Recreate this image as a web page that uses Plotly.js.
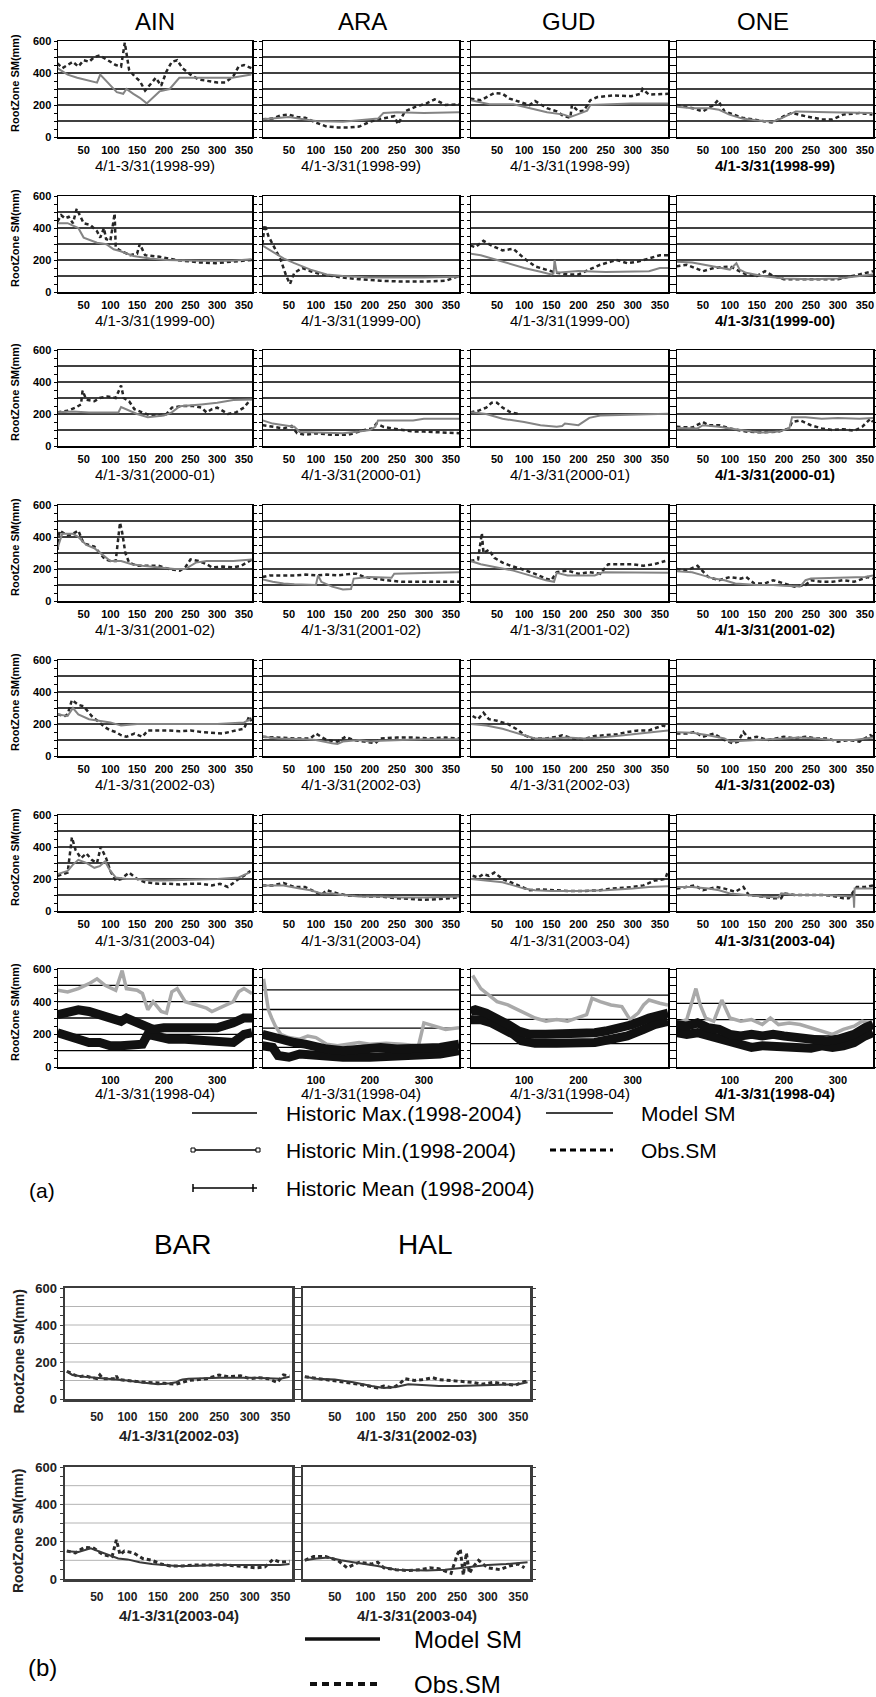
<!DOCTYPE html>
<html><head><meta charset="utf-8">
<script src="https://cdn.plot.ly/plotly-3.0.1.min.js"></script>
<style>html,body{margin:0;padding:0;background:#fff}#g{width:876px;height:1697px}</style>
</head><body><div id="g"></div>
<script>
// ---------------- DATA ----------------
const stations = ['AIN','ARA','GUD','ONE'];
const yearLabels = ['1998-99','1999-00','2000-01','2001-02','2002-03','2003-04'];
const histLabel = '1998-04';
const xTicksA = [50,100,150,200,250,300,350];
const xTicksHist = [100,200,300];
const yTickVals = [0,50,100,150,200,250,300,350,400,450,500,550,600];
const gridA = [100,200,300,400,500];
const gridHistAIN = [100,200,300,400,500];
const gridHistARA = [120,238,352,472];
const gridHistGUD = [143,291,440];
const gridHistONE = [190,290,389];
const gridB = [100,200,300,400,500];

// 1998-99
const AIN98_md=[1,20,38,62,75,81,93,112,124,130,143,155,168,180,192,211,229,267,328,364];
const AIN98_mv=[430,390,370,350,340,390,350,280,270,300,270,245,210,250,285,300,370,370,370,390];
const AIN98_od=[1,10,20,30,40,50,60,70,80,90,100,110,120,127,135,145,155,165,175,185,195,205,215,225,235,250,265,280,300,315,330,340,350,364];
const AIN98_ov=[460,430,450,470,440,480,470,500,510,490,470,450,440,590,420,380,350,290,330,370,320,410,470,480,430,390,360,350,340,340,380,440,450,430];
const ARA98_md=[1,30,50,80,100,150,200,215,225,250,300,365];
const ARA98_mv=[110,120,125,110,100,95,110,115,150,155,150,155];
const ARA98_od=[1,20,35,50,65,80,100,120,140,160,180,200,215,230,245,252,265,285,305,320,340,365];
const ARA98_ov=[110,115,135,140,125,120,90,65,60,60,65,95,110,120,130,80,160,190,210,235,200,205];
const GUD98_md=[1,36,80,110,142,173,185,197,216,222,297,365];
const GUD98_mv=[230,205,205,180,155,140,125,140,165,200,210,210];
const GUD98_od=[1,20,45,60,73,92,110,120,142,160,173,185,188,200,210,222,235,266,297,315,318,330,365];
const GUD98_ov=[240,230,275,270,240,220,200,225,180,160,130,120,200,160,165,230,250,260,255,270,300,265,270];
const ONE98_md=[1,31,62,80,99,123,148,179,191,222,284,364];
const ONE98_mv=[190,180,180,170,140,115,105,95,110,160,155,150];
const ONE98_od=[1,31,50,70,78,90,123,140,160,180,200,215,240,270,290,310,340,364];
const ONE98_ov=[200,180,160,200,230,160,120,110,100,90,130,150,130,110,110,140,150,140];
// 1999-00
const AIN99_md=[1,20,40,50,75,93,106,118,143,174,205,267,328,364];
const AIN99_mv=[430,430,400,340,308,298,267,256,225,210,200,195,195,205];
const AIN99_od=[1,8,15,22,30,37,50,62,75,81,88,92,100,108,110,118,137,150,155,165,192,223,267,297,328,364];
const AIN99_ov=[440,480,460,470,430,520,430,420,380,340,400,330,320,490,280,260,230,240,300,230,220,200,185,180,190,200];
const ARA99_md=[1,20,40,60,90,120,150,200,250,300,365];
const ARA99_mv=[290,250,210,180,140,110,100,90,90,90,95];
const ARA99_od=[1,5,12,20,35,45,52,60,75,90,110,130,150,180,220,260,300,340,365];
const ARA99_ov=[300,420,350,300,200,100,50,120,150,130,110,100,90,80,70,65,65,70,100];
const GUD99_md=[1,20,50,70,100,130,150,154,156,160,200,250,330,350,365];
const GUD99_mv=[240,230,200,180,150,127,110,115,200,120,131,125,130,150,150];
const GUD99_od=[1,10,25,40,60,80,100,120,140,160,180,200,220,240,260,270,290,310,330,350,365];
const GUD99_ov=[290,280,320,290,260,270,210,160,140,120,110,110,140,170,190,200,180,190,210,230,230];
const ONE99_md=[1,30,70,100,112,118,130,160,200,250,300,340,365];
const ONE99_mv=[190,185,160,140,180,140,120,100,85,80,85,100,110];
const ONE99_od=[1,20,50,70,100,130,150,165,180,200,250,300,340,365];
const ONE99_ov=[160,170,130,150,160,110,100,130,100,80,80,80,110,130];
// 2000-01
const AIN00_md=[1,30,60,90,115,120,150,170,200,215,230,270,300,330,365];
const AIN00_mv=[210,215,210,210,210,243,200,180,190,210,249,260,270,288,290];
const AIN00_od=[1,20,35,45,48,55,70,80,95,110,120,125,135,145,160,175,190,205,215,235,255,270,280,290,300,320,335,350,362];
const AIN00_ov=[210,220,240,260,346,290,280,300,310,300,378,300,280,230,210,190,190,200,240,250,250,240,210,230,240,200,210,240,290];
const ARA00_md=[1,20,50,60,70,100,150,180,200,210,215,280,300,365];
const ARA00_mv=[160,140,125,120,87,85,80,90,100,120,160,160,170,170];
const ARA00_od=[1,20,40,55,65,80,100,130,160,190,205,212,225,240,260,280,300,330,365];
const ARA00_ov=[130,120,110,125,80,70,80,70,70,100,110,140,120,110,100,90,90,85,80];
const GUD00_md=[1,30,60,100,130,160,170,175,200,220,240,300,365];
const GUD00_mv=[212,200,170,150,130,120,125,140,130,176,190,195,201];
const GUD00_od=[1,15,30,40,50,60,75,90];
const GUD00_ov=[210,220,240,270,270,240,210,200];
const ONE00_md=[1,40,50,80,110,140,160,190,210,215,240,270,300,340,365];
const ONE00_mv=[112,110,130,120,105,90,85,90,110,180,180,170,175,170,175];
const ONE00_od=[1,30,50,60,80,100,130,160,190,210,215,230,250,270,290,310,330,345,360,365];
const ONE00_ov=[120,115,150,130,130,110,90,85,90,110,150,160,130,110,100,105,95,120,170,150];
// 2001-02
const AIN01_md=[1,10,30,40,55,70,85,100,120,140,160,190,220,240,260,280,300,330,365];
const AIN01_mv=[330,420,420,400,350,330,290,250,250,230,220,210,200,200,240,250,250,250,260];
const AIN01_od=[1,5,20,30,40,50,60,70,80,90,100,110,118,122,128,135,150,170,190,210,230,240,250,265,280,290,310,330,345,355,365];
const AIN01_ov=[320,440,410,420,440,360,350,340,300,260,250,250,490,430,300,240,220,220,220,200,190,210,260,250,230,210,215,210,220,240,260];
const ARA01_md=[1,20,40,60,100,104,110,130,150,165,170,200,240,245,300,365];
const ARA01_mv=[135,120,110,105,100,160,120,90,72,75,140,150,145,170,175,180];
const ARA01_od=[1,15,40,60,80,100,120,140,165,175,190,210,230,260,290,320,365];
const ARA01_ov=[150,160,160,160,165,160,165,160,170,170,150,140,130,120,120,120,120];
const GUD01_md=[1,20,50,80,110,140,155,160,180,230,245,300,365];
const GUD01_mv=[250,230,210,190,160,130,120,176,160,160,180,180,176];
const GUD01_od=[1,15,22,25,35,45,60,75,95,120,140,150,160,180,200,220,240,255,280,300,320,340,360];
const GUD01_ov=[250,260,424,300,320,270,240,220,200,170,140,130,180,190,170,180,170,230,230,230,220,230,250];
const ONE01_md=[1,30,50,70,90,110,150,180,200,230,240,250,300,350,365];
const ONE01_mv=[186,180,160,140,130,110,100,100,95,90,130,140,145,150,160];
const ONE01_od=[1,20,40,60,80,100,120,130,145,165,180,200,220,240,250,270,290,310,330,355,365];
const ONE01_ov=[200,190,220,150,130,150,140,150,110,110,130,110,90,100,130,120,120,130,120,150,140];
// 2002-03
const AIN02_md=[1,20,30,40,60,80,100,120,150,200,250,300,350,362];
const AIN02_mv=[260,250,300,260,230,220,210,190,200,200,200,200,210,230];
const AIN02_od=[1,15,20,28,40,50,65,80,90,100,110,120,130,145,160,170,190,210,230,250,270,290,310,335,350,360,365];
const AIN02_ov=[260,250,260,350,320,310,250,210,180,160,150,130,120,140,120,160,160,160,155,160,150,145,140,160,170,250,200];
const ARA02_md=[1,30,80,100,130,140,150,180,200,220,260,300,365];
const ARA02_mv=[120,110,105,100,80,75,90,100,90,95,100,105,105];
const ARA02_od=[1,30,60,90,100,120,140,155,170,190,210,220,250,280,310,340,365];
const ARA02_ov=[120,115,110,110,140,100,90,120,100,90,80,110,115,115,110,115,110];
const GUD02_md=[1,30,60,80,100,120,150,180,210,240,270,300,330,365];
const GUD02_mv=[200,190,170,150,130,110,110,115,110,115,125,135,145,160];
const GUD02_od=[5,15,25,35,50,70,90,100,115,140,160,170,190,210,230,250,270,290,310,330,355,365];
const GUD02_ov=[250,230,270,230,220,200,160,130,110,110,120,130,110,105,125,130,135,150,160,160,190,180];
const ONE02_md=[1,30,60,90,100,120,150,200,230,260,290,330,365];
const ONE02_mv=[148,145,130,110,90,95,100,110,115,110,100,100,115];
const ONE02_od=[1,20,35,50,70,90,105,115,125,135,150,170,200,220,240,260,280,300,320,340,360,365];
const ONE02_ov=[140,140,150,120,140,100,80,90,150,110,120,100,120,110,120,110,110,90,100,90,130,120];
// 2003-04
const AIN03_md=[1,20,30,40,55,70,80,90,100,110,130,150,175,200,250,300,340,360];
const AIN03_mv=[230,250,290,320,300,270,280,310,250,210,200,200,190,190,195,200,210,240];
const AIN03_od=[1,20,28,35,45,55,65,75,82,92,100,110,120,135,150,165,190,210,230,250,270,290,305,320,340,350,362];
const AIN03_ov=[220,240,460,380,330,360,320,300,400,330,250,190,200,240,200,180,170,170,165,170,170,160,170,150,200,220,250];
const ARA03_md=[1,20,40,70,90,110,130,150,180,220,260,300,365];
const ARA03_mv=[160,160,160,140,130,110,110,100,90,90,85,85,90];
const ARA03_od=[1,20,40,60,80,100,110,120,140,160,180,200,220,250,280,300,330,365];
const ARA03_ov=[160,160,175,150,150,120,100,130,110,95,95,90,90,80,75,70,75,85];
const GUD03_md=[1,30,60,80,100,120,150,200,250,300,330,365];
const GUD03_mv=[200,190,180,160,140,130,125,125,130,140,150,155];
const GUD03_od=[5,15,25,35,45,60,75,95,110,130,150,180,210,240,260,280,300,320,340,360,365];
const GUD03_ov=[220,210,230,220,240,200,180,150,130,135,130,125,125,130,140,145,150,160,190,200,250];
const ONE03_md=[1,30,60,80,100,130,160,190,195,220,250,280,300,320,329,330,331,365];
const ONE03_mv=[150,150,140,130,110,100,90,85,110,100,100,100,95,90,90,20,140,140];
const ONE03_od=[1,20,35,50,75,90,110,125,135,160,180,195,200,220,250,270,290,310,320,335,350,365];
const ONE03_ov=[140,150,160,130,150,140,120,150,100,90,80,80,110,100,100,100,95,80,80,150,150,160];
// Historic 1998-2004
const AINh_maxd=[1,20,40,60,75,90,110,122,130,150,160,170,180,195,205,215,225,240,260,280,290,310,330,340,350,365];
const AINh_maxv=[470,460,480,510,540,500,470,590,480,470,450,350,400,340,330,460,480,400,380,360,340,370,400,460,480,450];
const AINh_meand=[1,20,40,60,80,100,120,130,150,165,180,200,220,250,280,300,330,350,365];
const AINh_meanv=[320,330,350,340,320,300,280,300,270,240,230,240,240,230,230,240,270,300,300];
const AINh_mind=[1,20,40,60,80,100,120,140,160,170,190,210,240,270,300,330,350,365];
const AINh_minv=[210,190,160,150,150,130,130,140,140,200,180,170,170,165,160,150,200,210];
const ARAh_maxd=[3,8,12,18,25,35,50,70,85,100,120,140,160,180,200,230,260,290,300,320,340,365];
const ARAh_maxv=[540,430,350,300,250,200,180,170,190,180,140,130,140,150,140,145,140,130,270,250,230,240];
const ARAh_meand=[1,20,40,60,80,100,120,150,180,220,250,280,300,330,365];
const ARAh_meanv=[200,180,170,150,140,120,110,100,110,120,110,110,110,120,140];
const ARAh_mind=[1,20,30,50,70,100,150,200,250,300,330,365];
const ARAh_minv=[130,120,70,60,80,70,60,60,65,70,80,100];
const GUDh_maxd=[5,20,35,50,70,100,120,140,160,180,200,215,225,240,260,280,295,310,320,330,350,365];
const GUDh_maxv=[560,480,440,400,380,330,300,280,290,280,300,320,420,400,380,370,290,330,380,410,390,380];
const GUDh_meand=[1,10,30,50,70,90,110,140,170,200,230,250,280,300,330,365];
const GUDh_meanv=[340,350,330,300,260,220,200,200,200,205,210,220,240,260,300,330];
const GUDh_mind=[1,20,40,60,80,95,120,160,200,230,260,290,320,340,365];
const GUDh_minv=[290,290,270,240,200,160,145,145,150,150,170,190,230,260,280];
const ONEh_maxd=[1,20,37,45,55,70,85,100,120,140,160,175,190,210,230,250,270,290,310,330,345,365];
const ONEh_maxv=[270,290,480,380,300,280,410,300,280,290,260,300,260,270,260,240,220,200,230,250,280,260];
const ONEh_meand=[1,20,40,60,80,100,120,140,160,180,200,220,250,280,300,330,350,365];
const ONEh_meanv=[260,250,270,240,230,200,190,200,190,200,190,180,170,160,170,200,240,260];
const ONEh_mind=[1,20,40,60,80,100,120,140,160,200,230,250,270,290,310,330,350,365];
const ONEh_minv=[210,200,210,190,170,150,130,120,130,120,120,115,130,120,130,150,190,210];
// Part (b)
const stationsB = ['BAR','HAL'];
const yearsB = ['2002-03','2003-04'];
const BAR02_md=[1,10,30,50,70,100,120,150,170,180,185,190,200,250,300,330,350,365];
const BAR02_mv=[148,130,120,115,110,100,90,80,85,90,100,105,110,115,115,110,110,120];
const BAR02_od=[1,20,30,50,55,60,80,82,85,100,130,160,180,200,230,250,265,285,300,315,330,345,355,365];
const BAR02_ov=[150,120,125,110,130,110,110,125,105,100,90,85,80,100,110,130,120,125,110,115,110,90,130,125];
const HAL02_md=[1,20,50,80,110,130,150,170,200,220,250,300,350,365];
const HAL02_mv=[120,110,105,90,70,60,65,80,75,70,70,75,80,90];
const HAL02_od=[1,25,50,90,120,130,145,155,165,180,195,210,220,235,255,275,290,310,330,345,360,365];
const HAL02_ov=[120,110,100,80,60,70,60,80,110,100,105,115,105,100,95,90,80,90,80,75,95,95];
const BAR03_md=[1,20,40,60,75,85,100,120,140,160,180,200,250,300,350,365];
const BAR03_mv=[148,145,165,140,120,110,105,90,80,75,70,70,75,75,75,80];
const BAR03_od=[1,15,30,45,60,75,82,88,95,110,125,140,155,170,190,210,240,260,280,300,310,325,338,350,365];
const BAR03_ov=[150,140,170,165,130,120,210,130,150,140,110,100,80,70,70,75,75,75,70,65,60,65,105,90,95];
const HAL03_md=[1,20,40,60,80,100,120,150,180,200,230,260,280,300,330,365];
const HAL03_mv=[100,110,115,100,90,80,70,50,45,45,50,60,70,75,80,90];
const HAL03_od=[1,15,35,55,70,90,110,120,130,150,170,190,205,220,240,250,255,260,265,270,275,285,300,320,335,350,360];
const HAL03_ov=[100,120,120,100,60,90,80,90,60,50,45,50,60,55,30,130,160,20,140,30,60,100,60,50,70,80,60];

// ---------------- tables built from the arrays ----------------
const seriesA = [
 [[AIN98_md,AIN98_mv,AIN98_od,AIN98_ov],[ARA98_md,ARA98_mv,ARA98_od,ARA98_ov],[GUD98_md,GUD98_mv,GUD98_od,GUD98_ov],[ONE98_md,ONE98_mv,ONE98_od,ONE98_ov]],
 [[AIN99_md,AIN99_mv,AIN99_od,AIN99_ov],[ARA99_md,ARA99_mv,ARA99_od,ARA99_ov],[GUD99_md,GUD99_mv,GUD99_od,GUD99_ov],[ONE99_md,ONE99_mv,ONE99_od,ONE99_ov]],
 [[AIN00_md,AIN00_mv,AIN00_od,AIN00_ov],[ARA00_md,ARA00_mv,ARA00_od,ARA00_ov],[GUD00_md,GUD00_mv,GUD00_od,GUD00_ov],[ONE00_md,ONE00_mv,ONE00_od,ONE00_ov]],
 [[AIN01_md,AIN01_mv,AIN01_od,AIN01_ov],[ARA01_md,ARA01_mv,ARA01_od,ARA01_ov],[GUD01_md,GUD01_mv,GUD01_od,GUD01_ov],[ONE01_md,ONE01_mv,ONE01_od,ONE01_ov]],
 [[AIN02_md,AIN02_mv,AIN02_od,AIN02_ov],[ARA02_md,ARA02_mv,ARA02_od,ARA02_ov],[GUD02_md,GUD02_mv,GUD02_od,GUD02_ov],[ONE02_md,ONE02_mv,ONE02_od,ONE02_ov]],
 [[AIN03_md,AIN03_mv,AIN03_od,AIN03_ov],[ARA03_md,ARA03_mv,ARA03_od,ARA03_ov],[GUD03_md,GUD03_mv,GUD03_od,GUD03_ov],[ONE03_md,ONE03_mv,ONE03_od,ONE03_ov]]
];
const seriesHist = [
 [AINh_maxd,AINh_maxv,AINh_meand,AINh_meanv,AINh_mind,AINh_minv],
 [ARAh_maxd,ARAh_maxv,ARAh_meand,ARAh_meanv,ARAh_mind,ARAh_minv],
 [GUDh_maxd,GUDh_maxv,GUDh_meand,GUDh_meanv,GUDh_mind,GUDh_minv],
 [ONEh_maxd,ONEh_maxv,ONEh_meand,ONEh_meanv,ONEh_mind,ONEh_minv]
];
const gridHist = [gridHistAIN,gridHistARA,gridHistGUD,gridHistONE];
const seriesB = [
 [[BAR02_md,BAR02_mv,BAR02_od,BAR02_ov],[HAL02_md,HAL02_mv,HAL02_od,HAL02_ov]],
 [[BAR03_md,BAR03_mv,BAR03_od,BAR03_ov],[HAL03_md,HAL03_mv,HAL03_od,HAL03_ov]]
];

// ---------------- layout geometry ----------------
const W=876, H=1697;
const SANS='Liberation Sans, Arial, Helvetica, sans-serif';
const colsA=[[58,252],[263,459],[471,668],[677,873]];
const topsA=[41,196,350,505,660,815,969];
const colsB=[[65,292],[303,530]];
const rowsB=[[1288,1399],[1467,1579]];
const titleXA=[155,362,568,763];

const layout={width:W,height:H,margin:{l:0,r:0,t:0,b:0},showlegend:false,
  paper_bgcolor:'#fff',plot_bgcolor:'#fff',shapes:[],annotations:[],hovermode:false};
const traces=[];
let n=0;
const px=(x)=>x/W, py=(y)=>1-y/H;
function ann(text,x,y,font,extra){layout.annotations.push(Object.assign({text:text,x:px(x),y:py(y),xref:'paper',yref:'paper',showarrow:false,font:font,xanchor:'center',yanchor:'middle'},extra||{}));}

function addPanel(g){
  n++;
  const id = n===1?'':String(n);
  const A = g.style==='a';
  const lc = A?'#000':'#3c3c3c', lw = A?1.5:2.5;
  layout['xaxis'+id]={domain:[px(g.x0),px(g.x1)],anchor:'y'+id,range:g.xr,tickmode:'array',tickvals:g.xt,ticktext:g.xt.map(String),
    ticks:'outside',ticklen:A?2:5,tickcolor:'rgba(0,0,0,0)',showline:true,mirror:true,linecolor:lc,linewidth:lw,
    showgrid:false,zeroline:false,fixedrange:true,
    tickfont:A?{family:SANS,size:11,color:'#000',weight:'bold'}:{family:SANS,size:12,color:'#222',weight:'bold'}};
  layout['xaxis'+(n+40)]={overlaying:'x'+id,anchor:'y'+id,side:'top',range:g.xr,tickmode:'linear',tick0:0,dtick:A?18.25:25,
    ticks:'outside',ticklen:3,tickwidth:1,tickcolor:lc,showticklabels:false,showline:false,showgrid:false,zeroline:false,fixedrange:true};
  layout['yaxis'+id]={domain:[py(g.y1),py(g.y0)],anchor:'x'+id,range:[0,600],tickmode:'array',tickvals:yTickVals,
    ticktext:yTickVals.map(v=>v%200===0?String(v):''),showticklabels:g.left,ticks:'outside',ticklen:3,tickwidth:1,tickcolor:lc,
    mirror:'ticks',showline:true,linecolor:lc,linewidth:lw,showgrid:false,zeroline:false,fixedrange:true,
    tickfont:A?{family:SANS,size:11,color:'#000',weight:'bold'}:{family:SANS,size:13,color:'#222',weight:'bold'}};
  g.grid.forEach(v=>layout.shapes.push({type:'line',xref:'x'+id+' domain',yref:'y'+id,x0:0,x1:1,y0:v,y1:v,layer:'below',
    line:{color:A?'#000':'#b4b4b4',width:A?1.3:1}}));
  return {x:'x'+id,y:'y'+id};
}

// part (a) rows 1-6
for(let r=0;r<6;r++){
  for(let c=0;c<4;c++){
    const top=topsA[r], bot=top+96;
    const ax=addPanel({style:'a',x0:colsA[c][0],x1:colsA[c][1],y0:top,y1:bot,xr:[2,365],xt:xTicksA,left:c===0,grid:gridA});
    const s=seriesA[r][c];
    traces.push({x:s[2],y:s[3],xaxis:ax.x,yaxis:ax.y,mode:'lines',line:{color:'#262626',width:2.5,dash:'4px,3px'},hoverinfo:'skip'});
    traces.push({x:s[0],y:s[1],xaxis:ax.x,yaxis:ax.y,mode:'lines',line:{color:'#848484',width:2},hoverinfo:'skip'});
    const cx=(colsA[c][0]+colsA[c][1])/2;
    ann((c===3?'<b>':'')+'4/1-3/31('+yearLabels[r]+')'+(c===3?'</b>':''),cx,bot+29,{family:SANS,size:15,color:'#000'});
    if(c===0) ann('<b>RootZone SM(mm)</b>',15,(top+bot)/2-6,{family:SANS,size:11,color:'#000'},{textangle:-90});
  }
}
// part (a) row 7 historic
for(let c=0;c<4;c++){
  const top=topsA[6], bot=top+98;
  const ax=addPanel({style:'a',x0:colsA[c][0],x1:colsA[c][1],y0:top,y1:bot,xr:[2,365],xt:xTicksHist,left:c===0,grid:gridHist[c]});
  const s=seriesHist[c];
  traces.push({x:s[0],y:s[1],xaxis:ax.x,yaxis:ax.y,mode:'lines',line:{color:'#a9a9a9',width:3.5},hoverinfo:'skip'});
  traces.push({x:s[4],y:s[5],xaxis:ax.x,yaxis:ax.y,mode:'lines',line:{color:'#111',width:9},hoverinfo:'skip'});
  traces.push({x:s[2],y:s[3],xaxis:ax.x,yaxis:ax.y,mode:'lines',line:{color:'#111',width:9},hoverinfo:'skip'});
  const cx=(colsA[c][0]+colsA[c][1])/2;
  ann((c===3?'<b>':'')+'4/1-3/31('+histLabel+')'+(c===3?'</b>':''),cx,bot+26,{family:SANS,size:15,color:'#000'});
  if(c===0) ann('<b>RootZone SM(mm)</b>',15,(top+bot)/2-6,{family:SANS,size:11,color:'#000'},{textangle:-90});
}
stations.forEach((s,c)=>ann(s,titleXA[c],22,{family:SANS,size:24,color:'#000'}));

// part (b)
for(let r=0;r<2;r++){
  for(let c=0;c<2;c++){
    const ax=addPanel({style:'b',x0:colsB[c][0],x1:colsB[c][1],y0:rowsB[r][0],y1:rowsB[r][1],xr:[-2,369],xt:xTicksA,left:c===0,grid:gridB});
    const s=seriesB[r][c];
    traces.push({x:s[2],y:s[3],xaxis:ax.x,yaxis:ax.y,mode:'lines',line:{color:'#2a2a2a',width:3,dash:'4px,3px'},hoverinfo:'skip'});
    traces.push({x:s[0],y:s[1],xaxis:ax.x,yaxis:ax.y,mode:'lines',line:{color:'#3a3a3a',width:2},hoverinfo:'skip'});
    const cx=(colsB[c][0]+colsB[c][1])/2;
    ann('<b>4/1-3/31('+yearsB[r]+')</b>',cx,rowsB[r][1]+36,{family:SANS,size:15,color:'#222'});
    if(c===0) ann('<b>RootZone SM(mm)</b>',18,(rowsB[r][0]+rowsB[r][1])/2+8,{family:SANS,size:14,color:'#222'},{textangle:-90});
  }
}
ann(stationsB[0],183,1244,{family:SANS,size:28,color:'#000'});
ann(stationsB[1],425,1244,{family:SANS,size:28,color:'#000'});

// legends (symbol shapes + text)
function seg(x0,x1,y,w,dash,col){layout.shapes.push({type:'line',xref:'paper',yref:'paper',x0:px(x0),x1:px(x1),y0:py(y),y1:py(y),line:{color:col||'#000',width:w,dash:dash||'solid'}});}
function vseg(x,y0,y1,w){layout.shapes.push({type:'line',xref:'paper',yref:'paper',x0:px(x),x1:px(x),y0:py(y0),y1:py(y1),line:{color:'#000',width:w}});}
function box(x0,x1,y0,y1){layout.shapes.push({type:'rect',xref:'paper',yref:'paper',x0:px(x0),x1:px(x1),y0:py(y1),y1:py(y0),line:{color:'#000',width:1},fillcolor:'#fff'});}
const LF={family:SANS,size:21,color:'#000'};
seg(192,257,1113,1.5); ann('Historic Max.(1998-2004)',284,1113,LF,{xanchor:'left'});
seg(546,613,1113,1.5); ann('Model SM',639,1113,LF,{xanchor:'left'});
seg(194,258,1150,1.5); box(191,195,1148,1152); box(256,260,1148,1152); ann('Historic Min.(1998-2004)',284,1150,LF,{xanchor:'left'});
seg(550,613,1150,3,'6px,4px'); ann('Obs.SM',639,1150,LF,{xanchor:'left'});
seg(193,257,1188,1.5); vseg(193,1184,1192,1.5); vseg(253,1184,1192,1.5);
ann('Historic Mean (1998-2004)',284,1188,LF,{xanchor:'left'});
ann('(a)',42,1190,{family:SANS,size:21,color:'#000'});
seg(305,380,1639,3.5,'solid','#111'); ann('Model SM',412,1639,{family:SANS,size:24,color:'#000'},{xanchor:'left'});
seg(310,377,1684,4,'7px,5px','#111'); ann('Obs.SM',412,1684,{family:SANS,size:24,color:'#000'},{xanchor:'left'});
ann('(b)',42,1667,{family:SANS,size:24,color:'#000'});

Plotly.newPlot('g',traces,layout,{staticPlot:true,displayModeBar:false});
</script></body></html>
